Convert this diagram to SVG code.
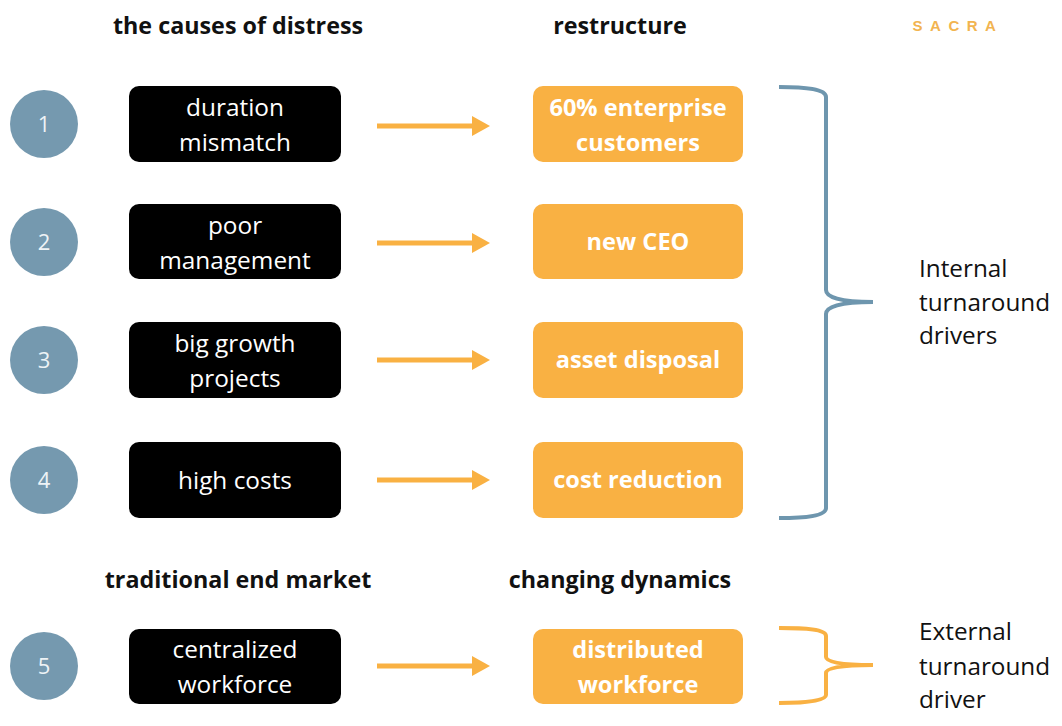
<svg xmlns="http://www.w3.org/2000/svg" width="1062" height="726" viewBox="0 0 1062 726">
<style>
.hdr{font-family:"Open Sans","Liberation Sans",sans-serif;font-weight:bold;font-size:23.3px;fill:#111;text-anchor:middle}
.num{font-family:"Open Sans","Liberation Sans",sans-serif;font-size:22px;fill:#eef3f6;text-anchor:middle}
.circ{fill:#7599AF}
.blk{fill:#000}
.org{fill:#F9B143}
.bt{font-family:"Open Sans","Liberation Sans",sans-serif;font-size:24.4px;fill:#fff;text-anchor:middle}
.ot{font-family:"Open Sans","Liberation Sans",sans-serif;font-weight:bold;font-size:23.6px;fill:#fff;text-anchor:middle}
.side{font-family:"Open Sans","Liberation Sans",sans-serif;font-size:24.3px;fill:#111}
.arr{stroke:#F9B143;stroke-width:5;fill:none}
</style>
<defs>
<marker id="ah" markerUnits="userSpaceOnUse" markerWidth="18" markerHeight="20" refX="0" refY="10" orient="auto">
<path d="M0,0 L18,10 L0,20 z" fill="#F9B143"/>
</marker>
</defs>
<rect width="1062" height="726" fill="#fff"/>
<g id="headers">
<text class="hdr" x="238" y="34">the causes of distress</text>
<text class="hdr" x="620" y="34">restructure</text>
<text class="hdr" x="238" y="588">traditional end market</text>
<text class="hdr" x="620" y="588">changing dynamics</text>
<text x="958" y="31" font-family="Liberation Sans, sans-serif" font-weight="bold" font-size="15" fill="#F2B450" text-anchor="middle" letter-spacing="7.5">SACRA</text>
</g>
<g id="n1"><circle class="circ" cx="44" cy="124" r="34"/><text class="num" x="44" y="132">1</text></g>
<g id="n2"><circle class="circ" cx="44" cy="242" r="34"/><text class="num" x="44" y="250">2</text></g>
<g id="n3"><circle class="circ" cx="44" cy="360" r="34"/><text class="num" x="44" y="368">3</text></g>
<g id="n4"><circle class="circ" cx="44" cy="480" r="34"/><text class="num" x="44" y="488">4</text></g>
<g id="n5"><circle class="circ" cx="44" cy="666" r="34"/><text class="num" x="44" y="674">5</text></g>
<g id="c1"><rect class="blk" x="129" y="86" width="212" height="76" rx="10"/><text class="bt" x="235" y="116">duration</text><text class="bt" x="235" y="151">mismatch</text></g>
<g id="c2"><rect class="blk" x="129" y="204" width="212" height="75" rx="10"/><text class="bt" x="235" y="234">poor</text><text class="bt" x="235" y="269">management</text></g>
<g id="c3"><rect class="blk" x="129" y="322" width="212" height="76" rx="10"/><text class="bt" x="235" y="352">big growth</text><text class="bt" x="235" y="387">projects</text></g>
<g id="c4"><rect class="blk" x="129" y="442" width="212" height="76" rx="10"/><text class="bt" x="235" y="489">high costs</text></g>
<g id="c5"><rect class="blk" x="129" y="629" width="212" height="75" rx="10"/><text class="bt" x="235" y="658">centralized</text><text class="bt" x="235" y="693">workforce</text></g>
<g id="r1"><rect class="org" x="533" y="86" width="210" height="76" rx="10"/><text class="ot" x="638" y="116">60% enterprise</text><text class="ot" x="638" y="151">customers</text></g>
<g id="r2"><rect class="org" x="533" y="204" width="210" height="75" rx="10"/><text class="ot" x="638" y="250">new CEO</text></g>
<g id="r3"><rect class="org" x="533" y="322" width="210" height="76" rx="10"/><text class="ot" x="638" y="368">asset disposal</text></g>
<g id="r4"><rect class="org" x="533" y="442" width="210" height="76" rx="10"/><text class="ot" x="638" y="488">cost reduction</text></g>
<g id="r5"><rect class="org" x="533" y="629" width="210" height="75" rx="10"/><text class="ot" x="638" y="658">distributed</text><text class="ot" x="638" y="693">workforce</text></g>
<g id="connectors">
<line class="arr" x1="377" y1="126" x2="472" y2="126" marker-end="url(#ah)"/>
<line class="arr" x1="377" y1="243" x2="472" y2="243" marker-end="url(#ah)"/>
<line class="arr" x1="377" y1="360" x2="472" y2="360" marker-end="url(#ah)"/>
<line class="arr" x1="377" y1="480" x2="472" y2="480" marker-end="url(#ah)"/>
<line class="arr" x1="377" y1="666" x2="472" y2="666" marker-end="url(#ah)"/>
</g>
<g id="internal">
<path d="M779,87 C805,87 826,89 826,97 L826,290 C826,297 840,302 873,302 C840,302 826,307 826,314 L826,508 C826,516 805,518 779,518" fill="none" stroke="#6E96AE" stroke-width="4"/>
<text class="side" x="919" y="277">Internal</text>
<text class="side" x="919" y="311">turnaround</text>
<text class="side" x="919" y="344">drivers</text>
</g>
<g id="external">
<path d="M779,628 C805,628 826,629 826,636 L826,657 C826,662 840,665 873,665 C840,665 826,668 826,673 L826,695 C826,701 805,703 779,703" fill="none" stroke="#F9B143" stroke-width="4"/>
<text class="side" x="919" y="640">External</text>
<text class="side" x="919" y="675">turnaround</text>
<text class="side" x="919" y="708">driver</text>
</g>
</svg>
